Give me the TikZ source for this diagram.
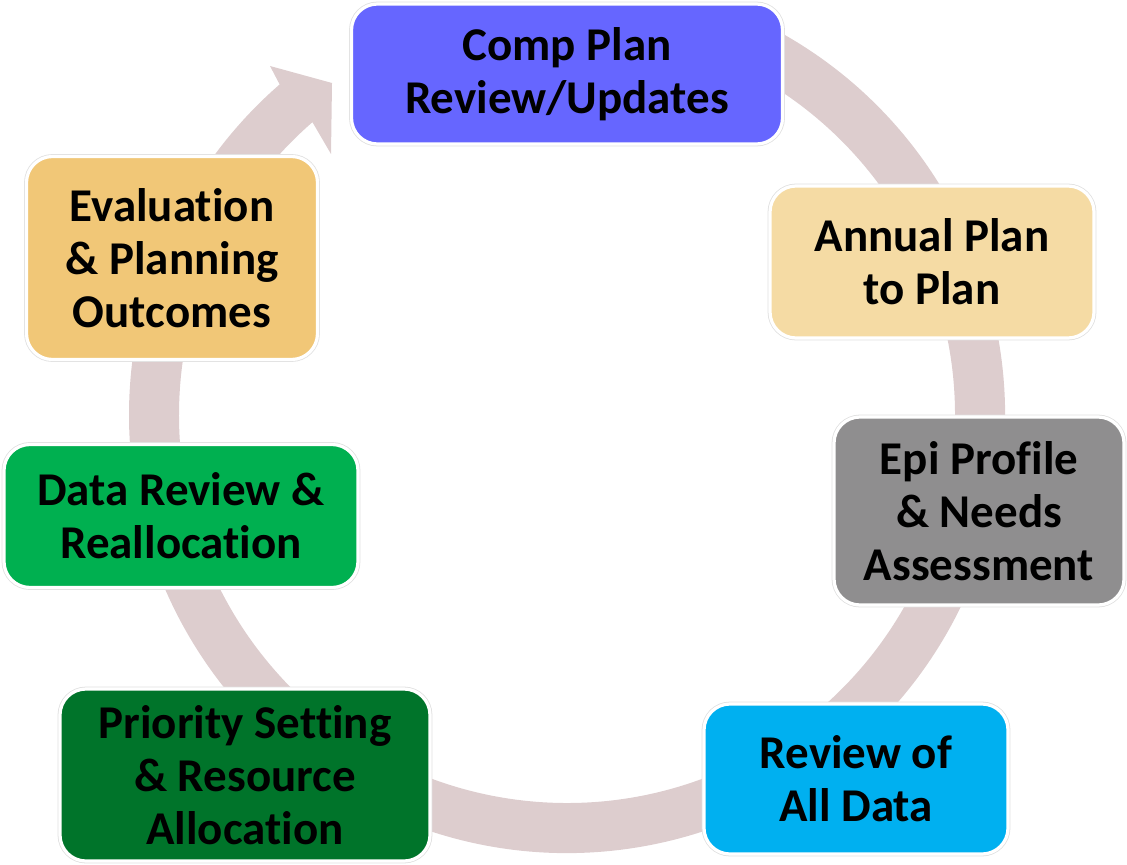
\documentclass[tikz,border=0pt]{standalone}
\usepackage{fontspec}
\setmainfont{Carlito}[Ligatures=NoCommon]
\usepackage{tikz}
\usetikzlibrary{calc}
\definecolor{compblue}{HTML}{6666FF}
\definecolor{annualtan}{HTML}{F5DBA4}
\definecolor{epigray}{HTML}{8F8E8F}
\definecolor{reviewcyan}{HTML}{00B0F0}
\definecolor{prioritygreen}{HTML}{00742A}
\definecolor{datagreen}{HTML}{00B050}
\definecolor{evalorange}{HTML}{F1C777}
\definecolor{ringfill}{HTML}{DDCDCE}
\tikzstyle{stage} = [rectangle, rounded corners=13pt, draw=white, line width=1.6pt, preaction={draw=black!12, line width=2.4pt}, align=center, text=black, font=\bfseries\fontsize{23.5}{26.5}\selectfont]

\begin{document}
\begin{tikzpicture}[x=0.5pt, y=0.5pt]
		\useasboundingbox (0,0) rectangle (1127,864);
		\coordinate (hub) at (567,449);
		% ring with arrow head
		\fill[ringfill] ($(hub)+(65:438)$) arc[start angle=65, end angle=-229, radius=438] -- (270,798) -- (332,781) -- (331,710) -- ($(hub)+(131:388)$) arc[start angle=-229, end angle=65, radius=388] -- cycle;

		\node (CompPlan) [stage, fill=compblue, minimum width=215.5pt, minimum height=70pt] at (567,790) {Comp Plan\\Review/Updates};
		\node (AnnualPlan) [stage, fill=annualtan, minimum width=162pt, minimum height=76pt] at (932,602) {Annual Plan\\to Plan};
		\node (EpiProfile) [stage, fill=epigray, minimum width=145pt, minimum height=94pt] at (979,353) {Epi Profile\\\& Needs\\Assessment};
		\node (ReviewData) [stage, fill=reviewcyan, minimum width=152pt, minimum height=75pt] at (856,85) {Review of\\All Data};
		\node (Priority) [stage, fill=prioritygreen, minimum width=185pt, minimum height=86pt] at (245,89) {Priority Setting\\\& Resource\\Allocation};
		\node (DataReview) [stage, fill=datagreen, minimum width=177pt, minimum height=71.5pt] at (181,348) {Data Review \&\\Reallocation};
		\node (Evaluation) [stage, fill=evalorange, minimum width=145.5pt, minimum height=101.5pt] at (172,606) {Evaluation\\\& Planning\\Outcomes};
\end{tikzpicture}
\end{document}
